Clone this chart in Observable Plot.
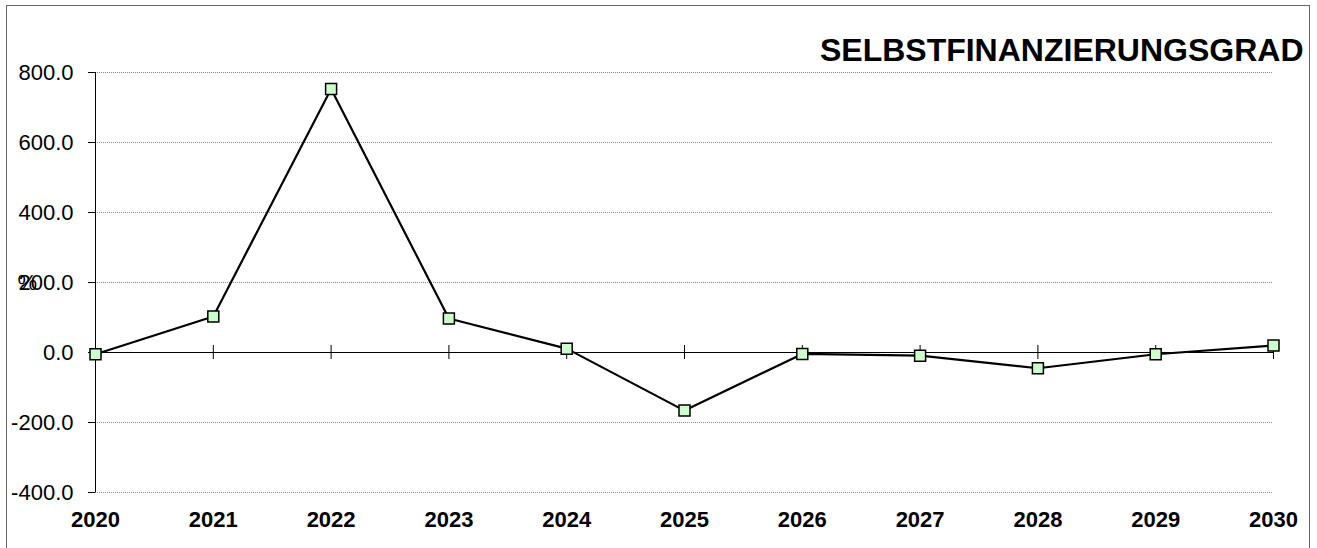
<!DOCTYPE html>
<html>
<head>
<meta charset="utf-8">
<script src="https://cdn.jsdelivr.net/npm/d3@7"></script>
<script src="https://cdn.jsdelivr.net/npm/@observablehq/plot@0.6"></script>
<style>
  html, body { margin: 0; padding: 0; background: white; }
  #wrap { position: relative; width: 1317px; height: 548px; overflow: hidden; }
  #border { position: absolute; left: 6px; top: 5px; width: 1302px; height: 600px;
            border: 1px solid #666; border-bottom: none; pointer-events: none; }
  svg { display: block; }
</style>
</head>
<body>
<div id="wrap"><div id="border"></div></div>
<script>
const years = [2020, 2021, 2022, 2023, 2024, 2025, 2026, 2027, 2028, 2029, 2030];
const values = [-5, 103, 753, 97, 11, -166, -4, -9, -45, -5, 20];
const yTicks = [-400, -200, 0, 200, 400, 600, 800];
const title = "SELBSTFINANZIERUNGSGRAD";
const unitLabel = "%";

const data = years.map((y, i) => ({year: y, value: values[i]}));

const chart = Plot.plot({
  width: 1317,
  height: 548,
  marginLeft: 95,
  marginRight: 44,
  marginTop: 72,
  marginBottom: 56,
  style: {fontFamily: "'Liberation Sans', Arial, sans-serif", background: "transparent", overflow: "visible", color: "black"},
  x: {domain: [2020, 2030]},
  y: {domain: [-400, 800]},
  marks: [
    Plot.ruleY(yTicks.filter(d => d !== 0), {stroke: "#8a8a8a", strokeDasharray: "1,1", strokeWidth: 1}),
    Plot.ruleY([0], {stroke: "black", strokeWidth: 1}),
    Plot.ruleX(years.slice(1), {y1: 0, y2: 0, insetTop: -7, insetBottom: -7, stroke: "black", strokeWidth: 1}),
    Plot.ruleX([2020], {stroke: "black", strokeWidth: 1}),
    Plot.axisY({ticks: yTicks, tickFormat: d => d.toFixed(1), tickSize: 7, tickPadding: 15, fontSize: 22, label: null, stroke: "black"}),
    Plot.axisX({ticks: years, tickFormat: d => String(d), tickSize: 0, tickPadding: 19, fontSize: 22, fontWeight: "bold", label: null}),
    Plot.line(data, {x: "year", y: "value", stroke: "black", strokeWidth: 2.2}),
    Plot.dot(data, {x: "year", y: "value", symbol: "square", r: 6.2, fill: "#ccffcc", stroke: "black", strokeWidth: 1.5}),
    Plot.text([unitLabel], {x: 2020, y: 200, dx: -78, textAnchor: "start", fontSize: 22}),
    Plot.text([title], {frameAnchor: "top-right", dx: 30, dy: -34, fontSize: 32, fontWeight: "bold", textAnchor: "end"})
  ]
});
document.getElementById("wrap").prepend(chart);
</script>
</body>
</html>
